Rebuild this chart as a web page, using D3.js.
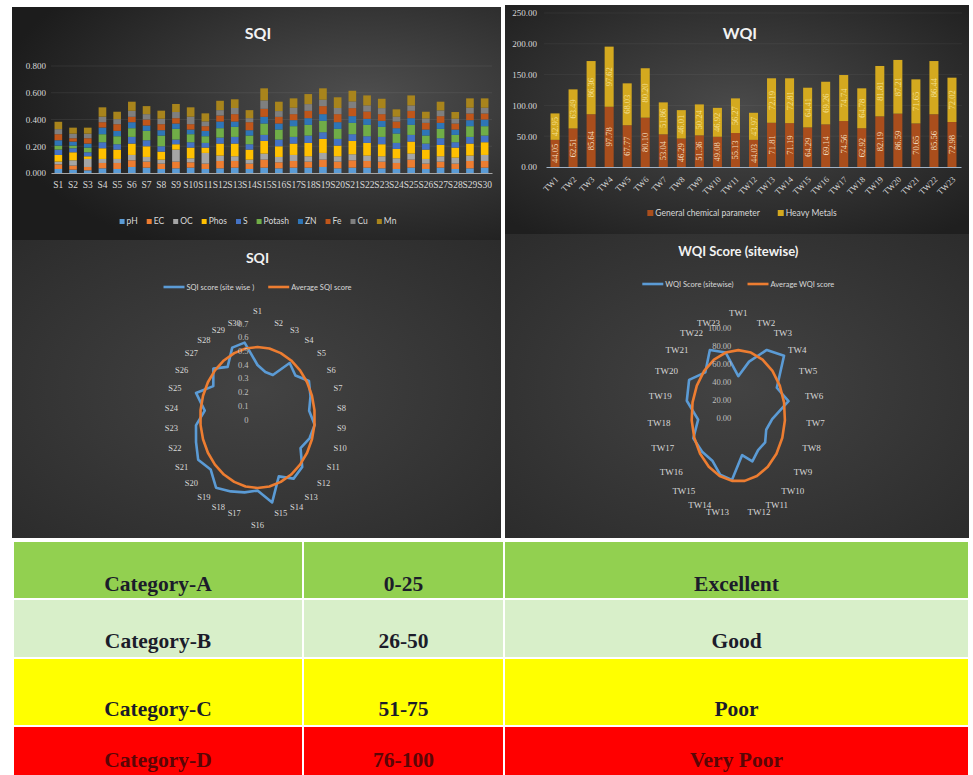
<!DOCTYPE html>
<html>
<head>
<meta charset="utf-8">
<script src="https://cdn.jsdelivr.net/npm/d3@7"></script>
<style>
  html, body { margin: 0; padding: 0; background: #ffffff; }
  svg { display: block; }
</style>
</head>
<body>
<svg id="fig" width="973" height="775"></svg>
<script>
// ---------- Soil quality index (SQI) ----------
const sites = ["S1","S2","S3","S4","S5","S6","S7","S8","S9","S10","S11","S12","S13","S14","S15",
               "S16","S17","S18","S19","S20","S21","S22","S23","S24","S25","S26","S27","S28","S29","S30"];
const soilParams = ["pH","EC","OC","Phos","S","Potash","ZN","Fe","Cu","Mn"];
const soilColors = ["#5b9bd5","#ed7d31","#a5a5a5","#ffc000","#4472c4","#70ad47","#2e75b6","#c0561a","#7f7f7f","#a8841c"];

const pH     = [0.030,0.025,0.020,0.035,0.030,0.045,0.040,0.030,0.035,0.040,0.030,0.035,0.040,0.030,0.040,0.035,0.040,0.040,0.045,0.035,0.040,0.040,0.035,0.030,0.040,0.030,0.040,0.030,0.035,0.040];
const EC     = [0.035,0.030,0.025,0.040,0.045,0.050,0.045,0.040,0.050,0.040,0.040,0.055,0.050,0.040,0.060,0.045,0.050,0.045,0.055,0.050,0.055,0.050,0.050,0.045,0.060,0.040,0.045,0.040,0.055,0.050];
const OC     = [0.020,0.040,0.060,0.030,0.030,0.040,0.035,0.030,0.090,0.030,0.080,0.040,0.035,0.030,0.045,0.040,0.045,0.040,0.050,0.040,0.045,0.040,0.040,0.035,0.045,0.035,0.040,0.045,0.040,0.045];
const Phos   = [0.050,0.060,0.020,0.080,0.070,0.085,0.080,0.060,0.040,0.080,0.040,0.090,0.095,0.075,0.095,0.080,0.085,0.100,0.105,0.080,0.100,0.095,0.090,0.070,0.090,0.070,0.085,0.075,0.090,0.095];
const S      = [0.040,0.030,0.030,0.045,0.040,0.050,0.045,0.040,0.035,0.040,0.035,0.045,0.050,0.040,0.045,0.050,0.050,0.055,0.050,0.050,0.050,0.050,0.055,0.045,0.050,0.045,0.050,0.040,0.050,0.050];
const Potash = [0.030,0.020,0.035,0.060,0.060,0.065,0.070,0.080,0.080,0.060,0.050,0.070,0.075,0.065,0.085,0.075,0.080,0.080,0.085,0.075,0.085,0.085,0.075,0.070,0.075,0.060,0.070,0.055,0.080,0.070];
const ZN     = [0.040,0.030,0.030,0.050,0.040,0.045,0.040,0.040,0.040,0.035,0.040,0.050,0.040,0.040,0.050,0.045,0.045,0.050,0.050,0.050,0.050,0.045,0.045,0.040,0.050,0.045,0.045,0.040,0.045,0.050];
const Fe     = [0.045,0.025,0.040,0.040,0.050,0.040,0.045,0.045,0.040,0.040,0.035,0.045,0.055,0.060,0.060,0.050,0.045,0.055,0.060,0.060,0.060,0.055,0.050,0.050,0.055,0.050,0.050,0.045,0.050,0.045];
const Cu     = [0.038,0.034,0.034,0.041,0.038,0.045,0.040,0.041,0.046,0.056,0.036,0.040,0.046,0.030,0.063,0.043,0.048,0.050,0.048,0.046,0.050,0.045,0.045,0.036,0.040,0.033,0.043,0.036,0.043,0.043];
const Mn     = [0.055,0.045,0.045,0.070,0.055,0.068,0.060,0.060,0.060,0.070,0.060,0.070,0.065,0.060,0.090,0.070,0.070,0.075,0.085,0.080,0.080,0.075,0.070,0.055,0.075,0.050,0.065,0.050,0.070,0.070];

// site-wise SQI score and its mean
const sqiScore = [0.383,0.339,0.339,0.491,0.458,0.533,0.500,0.466,0.516,0.491,0.446,0.540,0.551,0.470,0.633,
                  0.533,0.558,0.590,0.633,0.566,0.615,0.580,0.555,0.476,0.580,0.458,0.533,0.456,0.558,0.558];
const avgSqiScore = 0.514;
const sqiBarTicks = [0, 0.2, 0.4, 0.6, 0.8];
const sqiRadarTicks = [0, 0.1, 0.2, 0.3, 0.4, 0.5, 0.6, 0.7];

// ---------- Water quality index (WQI) ----------
const wells = ["TW1","TW2","TW3","TW4","TW5","TW6","TW7","TW8","TW9","TW10","TW11","TW12",
               "TW13","TW14","TW15","TW16","TW17","TW18","TW19","TW20","TW21","TW22","TW23"];
const wqiGeneral = [44.05,62.51,85.64,97.78,67.77,80.10,53.04,46.29,51.36,49.08,55.13,44.03,
                    71.81,71.19,64.29,69.14,74.56,62.92,82.19,86.59,70.65,85.56,72.98];
const wqiHeavy   = [42.95,63.49,86.36,97.62,68.03,80.20,51.86,46.01,50.24,46.92,56.27,43.97,
                    72.19,72.81,64.41,69.26,74.74,64.78,81.81,87.21,71.65,86.44,72.02];
const wqiSeries = ["General chemical parameter", "Heavy Metals"];
const wqiColors = ["#aa4e1c", "#d4a91f"];
const avgWqiScore = 73.0;
const wqiBarTicks = [0, 50, 100, 150, 200, 250];
const wqiRadarTicks = [0, 20, 40, 60, 80, 100];

// ---------- Classification table ----------
const categories = ["Category-A","Category-B","Category-C","Category-D"];
const ranges     = ["0-25","26-50","51-75","76-100"];
const ratings    = ["Excellent","Good","Poor","Very Poor"];
const rowColors  = ["#92d050","#d8efc9","#ffff00","#ff0000"];

const svg = d3.select("#fig");
const defs = svg.append("defs");
const LABEL = "#d9d9d9";
const SANS = "Lato, 'Liberation Sans', sans-serif";
const SERIF = "'Liberation Serif', 'DejaVu Serif', serif";

function radialGrad(id, cx, cy, r, c0, c1) {
  const g = defs.append("radialGradient").attr("id", id)
    .attr("cx", cx).attr("cy", cy).attr("r", r);
  g.append("stop").attr("offset", "0%").attr("stop-color", c0);
  g.append("stop").attr("offset", "100%").attr("stop-color", c1);
}
radialGrad("bgBarL", "72%", "40%", "75%", "#4f4f4f", "#1c1c1c");
radialGrad("bgBarR", "50%", "45%", "70%", "#4a4a4a", "#1f1f1f");
radialGrad("bgRadar", "50%", "50%", "70%", "#434343", "#2c2c2c");

// panel backgrounds
svg.append("rect").attr("x", 12).attr("y", 7).attr("width", 489).attr("height", 233).attr("fill", "url(#bgBarL)");
svg.append("rect").attr("x", 12).attr("y", 240).attr("width", 489).attr("height", 298).attr("fill", "url(#bgRadar)");
svg.append("rect").attr("x", 505).attr("y", 5).attr("width", 464).attr("height", 229).attr("fill", "url(#bgBarR)");
svg.append("rect").attr("x", 505).attr("y", 234).attr("width", 464).attr("height", 304).attr("fill", "url(#bgRadar)");

// ---------- SQI stacked bars ----------
{
  const g = svg.append("g");
  const rows = sites.map((s, i) => ({
    site: s, pH: pH[i], EC: EC[i], OC: OC[i], Phos: Phos[i], S: S[i],
    Potash: Potash[i], ZN: ZN[i], Fe: Fe[i], Cu: Cu[i], Mn: Mn[i]
  }));
  const x = d3.scaleBand().domain(sites).range([51, 492]).paddingInner(0.48).paddingOuter(0.24);
  const y = d3.scaleLinear().domain([0, 0.8]).range([173, 66]);
  const color = d3.scaleOrdinal().domain(soilParams).range(soilColors);

  g.append("g").selectAll("line").data(sqiBarTicks.slice(1)).join("line")
    .attr("x1", 51).attr("x2", 492).attr("y1", d => y(d)).attr("y2", d => y(d))
    .attr("stroke", "#ffffff").attr("stroke-opacity", 0.07);

  const stacked = d3.stack().keys(soilParams)(rows);
  g.append("g").selectAll("g").data(stacked).join("g")
    .attr("fill", d => color(d.key))
    .selectAll("rect").data(d => d).join("rect")
    .attr("x", d => x(d.data.site)).attr("width", x.bandwidth())
    .attr("y", d => y(d[1])).attr("height", d => y(d[0]) - y(d[1]));

  const ya = g.append("g").attr("transform", "translate(46,0)")
    .call(d3.axisLeft(y).tickValues(sqiBarTicks).tickFormat(d3.format(".3f")).tickSize(0).tickPadding(0));
  ya.select(".domain").remove();
  ya.selectAll("text").attr("fill", LABEL).style("font", `9px ${SERIF}`);

  const xa = g.append("g").attr("transform", "translate(0,173)")
    .call(d3.axisBottom(x).tickSize(0).tickPadding(8));
  xa.select(".domain").attr("stroke", "#a6a6a6").attr("stroke-width", 1.2);
  xa.selectAll("text").attr("fill", LABEL).style("font", `9.5px ${SERIF}`);

  g.append("text").attr("x", 258).attr("y", 39).attr("text-anchor", "middle")
    .attr("fill", "#f2f2f2").style("font", `bold 16px ${SANS}`).text("SQI");

  // legend
  const leg = g.append("g");
  let cx = 0;
  soilParams.forEach((p, i) => {
    const it = leg.append("g").attr("transform", `translate(${cx},0)`);
    it.append("rect").attr("x", 0).attr("y", -5).attr("width", 5).attr("height", 5).attr("fill", soilColors[i]);
    const t = it.append("text").attr("x", 7).attr("y", 0).attr("fill", LABEL)
      .style("font", `8.5px ${SANS}`).text(p);
    cx += 7 + t.node().getComputedTextLength() + 9;
  });
  leg.attr("transform", `translate(${258 - (cx - 9) / 2},224)`);
}

// ---------- WQI stacked bars ----------
{
  const g = svg.append("g");
  const rows = wells.map((w, i) => ({ well: w, general: wqiGeneral[i], heavy: wqiHeavy[i] }));
  const x = d3.scaleBand().domain(wells).range([546, 961]).paddingInner(0.5).paddingOuter(0.25);
  const y = d3.scaleLinear().domain([0, 250]).range([167, 13]);
  const stacked = d3.stack().keys(["general", "heavy"])(rows);

  g.append("g").selectAll("line").data(wqiBarTicks.slice(1)).join("line")
    .attr("x1", 544).attr("x2", 962).attr("y1", d => y(d)).attr("y2", d => y(d))
    .attr("stroke", "#ffffff").attr("stroke-opacity", 0.05);

  g.append("g").selectAll("g").data(stacked).join("g")
    .attr("fill", (d, i) => wqiColors[i])
    .selectAll("rect").data(d => d).join("rect")
    .attr("x", d => x(d.data.well)).attr("width", x.bandwidth())
    .attr("y", d => y(d[1])).attr("height", d => y(d[0]) - y(d[1]));

  // value labels, rotated inside each segment
  stacked.forEach((layer, li) => {
    g.append("g").selectAll("text").data(layer).join("text")
      .attr("transform", d => `translate(${x(d.data.well) + x.bandwidth() / 2},${(y(d[0]) + y(d[1])) / 2}) rotate(-90)`)
      .attr("text-anchor", "middle").attr("dominant-baseline", "central")
      .attr("fill", li === 0 ? "#f6e3c8" : "#fff1b8").attr("fill-opacity", li === 0 ? 0.95 : 0.75)
      .style("font", `8.5px ${SERIF}`)
      .text(d => d3.format(".2f")(d[1] - d[0]));
  });

  const ya = g.append("g").attr("transform", "translate(537,0)")
    .call(d3.axisLeft(y).tickValues(wqiBarTicks).tickFormat(d3.format(".2f")).tickSize(0).tickPadding(0));
  ya.select(".domain").remove();
  ya.selectAll("text").attr("fill", LABEL).style("font", `9px ${SERIF}`);

  const xa = g.append("g").attr("transform", "translate(0,167)")
    .call(d3.axisBottom(x).tickSize(0).tickPadding(0));
  xa.select(".domain").attr("stroke", "#9fb2c6").attr("stroke-width", 1.2);
  xa.selectAll("text").attr("fill", LABEL).style("font", `8.5px ${SERIF}`)
    .attr("text-anchor", "end").attr("dy", null)
    .attr("transform", "translate(4,13) rotate(-45)");

  g.append("text").attr("x", 740).attr("y", 39).attr("text-anchor", "middle")
    .attr("fill", "#f2f2f2").style("font", `bold 16px ${SANS}`).text("WQI");

  const leg = g.append("g");
  let cx = 0;
  wqiSeries.forEach((p, i) => {
    const it = leg.append("g").attr("transform", `translate(${cx},0)`);
    it.append("rect").attr("x", 0).attr("y", -6).attr("width", 6).attr("height", 6).attr("fill", wqiColors[i]);
    const t = it.append("text").attr("x", 8).attr("y", 0).attr("fill", LABEL)
      .style("font", `8.5px ${SANS}`).text(p);
    cx += 8 + t.node().getComputedTextLength() + 18;
  });
  leg.attr("transform", `translate(${742 - (cx - 18) / 2},216)`);
}

// ---------- Radar helper ----------
function radar(o) {
  const g = svg.append("g");
  const n = o.cats.length;
  const r = d3.scaleLinear().domain([0, o.max]).range([0, 1]);
  const ang = i => i * 2 * Math.PI / n;
  const px = (v, i) => o.cx + r(v) * o.rx * Math.sin(ang(i));
  const py = (v, i) => o.cy - r(v) * o.ry * Math.cos(ang(i));
  const line = d3.line().x(d => px(d.v, d.i)).y(d => py(d.v, d.i)).curve(d3.curveLinearClosed);

  o.series.forEach(s => {
    const pts = o.cats.map((c, i) => ({ i, v: Array.isArray(s.values) ? s.values[i] : s.values }));
    g.append("path").attr("d", line(pts)).attr("fill", "none")
      .attr("stroke", s.color).attr("stroke-width", 2.6).attr("stroke-linejoin", "round");
  });

  // radial tick labels
  g.append("g").selectAll("text").data(o.ticks).join("text")
    .attr("x", o.cx - o.tickGap).attr("y", d => o.cy - r(d) * o.ry + 2)
    .attr("text-anchor", "end").attr("dominant-baseline", "central")
    .attr("fill", "#bfbfbf").style("font", `${o.tickSize}px ${SERIF}`)
    .text(o.tickFmt);

  // category labels around the rim
  g.append("g").selectAll("text").data(o.cats).join("text")
    .attr("x", (d, i) => o.cx + o.lrx * Math.sin(ang(i)))
    .attr("y", (d, i) => {
      const c = Math.cos(ang(i)), s = Math.sin(ang(i));
      const extra = Math.abs(s) < 0.05 ? o.poleGap * Math.sign(c) : 0;
      return o.lcy - (o.lry + extra * Math.sign(c)) * c;
    })
    .attr("text-anchor", (d, i) => {
      const s = Math.sin(ang(i));
      return s > 0.05 ? "start" : (s < -0.05 ? "end" : "middle");
    })
    .attr("dominant-baseline", "central")
    .attr("fill", LABEL).style("font", `${o.labelSize}px ${SERIF}`)
    .text(d => d);

  g.append("text").attr("x", o.cx).attr("y", o.titleY).attr("text-anchor", "middle")
    .attr("fill", "#f2f2f2").style("font", `bold ${o.titleSize}px ${SANS}`).text(o.title);

  const leg = g.append("g");
  let lx = 0;
  o.series.forEach(s => {
    const it = leg.append("g").attr("transform", `translate(${lx},0)`);
    it.append("line").attr("x1", 0).attr("x2", 21).attr("y1", 0).attr("y2", 0)
      .attr("stroke", s.color).attr("stroke-width", 2.6);
    const t = it.append("text").attr("x", 23).attr("y", 0).attr("dominant-baseline", "central")
      .attr("fill", LABEL).style("font", `7.5px ${SANS}`).text(s.name);
    lx += 23 + t.node().getComputedTextLength() + 14;
  });
  leg.attr("transform", `translate(${o.cx - (lx - 14) / 2},${o.legendY})`);
}

radar({
  cats: sites, cx: 257.5, cy: 417.5, rx: 78, ry: 96, max: 0.7,
  ticks: sqiRadarTicks, tickFmt: d => d === 0 ? "0" : d3.format(".1f")(d), tickGap: 9, tickSize: 8.5,
  lrx: 80, lry: 97, lcy: 418.2, poleGap: 10, labelSize: 8.5,
  title: "SQI", titleY: 263, titleSize: 14, legendY: 287,
  series: [
    { name: "SQI score (site wise )", values: sqiScore, color: "#5b9bd5" },
    { name: "Average  SQI score", values: avgSqiScore, color: "#ed7d31" }
  ]
});

radar({
  cats: wells, cx: 738.3, cy: 415.8, rx: 64, ry: 90, max: 100,
  ticks: wqiRadarTicks, tickFmt: d3.format(".2f"), tickGap: 7, tickSize: 8.5,
  lrx: 68, lry: 97, lcy: 416, poleGap: 6, labelSize: 9,
  title: "WQI Score (sitewise)", titleY: 256, titleSize: 13, legendY: 284,
  series: [
    { name: "WQI Score (sitewise)", values: wqiGeneral, color: "#5b9bd5" },
    { name: "Average WQI score", values: avgWqiScore, color: "#ed7d31" }
  ]
});

// ---------- Classification table ----------
{
  const g = svg.append("g");
  const rowTop = [542, 600, 659, 727];
  const rowBottom = [598, 657, 725, 775];
  const baselines = [591, 648, 716, 767];
  const colX = [14, 304, 505];
  const colW = [288, 199, 463];
  const rows = categories.map((c, i) => ({ cells: [c, ranges[i], ratings[i]], i }));

  const rg = g.selectAll("g").data(rows).join("g");
  rg.selectAll("rect").data(d => d.cells.map((c, j) => ({ j, i: d.i }))).join("rect")
    .attr("x", d => colX[d.j]).attr("width", d => colW[d.j])
    .attr("y", d => rowTop[d.i]).attr("height", d => rowBottom[d.i] - rowTop[d.i])
    .attr("fill", d => rowColors[d.i]);
  rg.selectAll("text").data(d => d.cells.map((c, j) => ({ c, j, i: d.i }))).join("text")
    .attr("x", d => colX[d.j] + colW[d.j] / 2).attr("y", d => baselines[d.i])
    .attr("text-anchor", "middle")
    .attr("fill", d => d.i === 3 ? "#5a0606" : "#1c1c2a")
    .style("font", `bold 21.5px ${SERIF}`)
    .text(d => d.c);
}
</script>
</body>
</html>
